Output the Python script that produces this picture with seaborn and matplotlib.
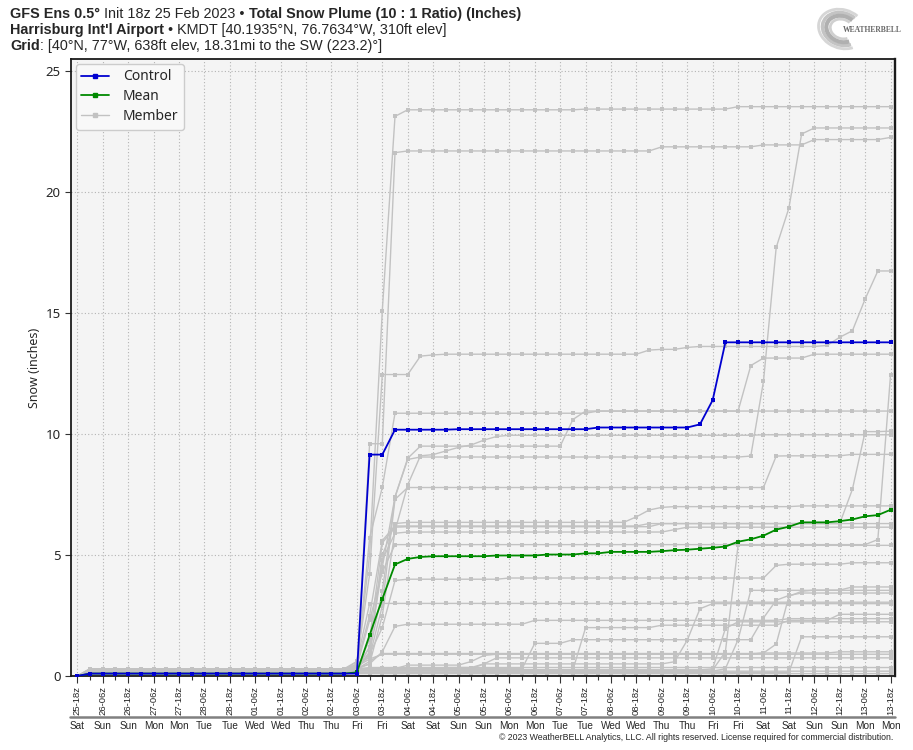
import matplotlib
matplotlib.use("Agg")
import matplotlib.pyplot as plt
import matplotlib.transforms as mtransforms
from matplotlib.lines import Line2D
from matplotlib.patches import Arc
from matplotlib import font_manager
import pandas as pd
import seaborn as sns

# ---- x axis: 6-hourly steps, 25-18z (Sat 25 Feb 2023) to 13-18z (Mon 13 Mar) ----
tick_labels = ["25-18z", "26-06z", "26-18z", "27-06z", "27-18z", "28-06z", "28-18z",
               "01-06z", "01-18z", "02-06z", "02-18z", "03-06z", "03-18z", "04-06z", "04-18z",
               "05-06z", "05-18z", "06-06z", "06-18z", "07-06z", "07-18z", "08-06z", "08-18z",
               "09-06z", "09-18z", "10-06z", "10-18z", "11-06z", "11-18z", "12-06z", "12-18z",
               "13-06z", "13-18z"]
day_labels = ["Sat", "Sun", "Sun", "Mon", "Mon", "Tue", "Tue", "Wed", "Wed", "Thu", "Thu",
              "Fri", "Fri", "Sat", "Sat", "Sun", "Sun", "Mon", "Mon", "Tue", "Tue", "Wed", "Wed",
              "Thu", "Thu", "Fri", "Fri", "Sat", "Sat", "Sun", "Sun", "Mon", "Mon"]

# ---- series, as (value, number of 6h steps) runs ----
control = [(0, 1), (0.1, 22), (9.15, 2), (10.18, 5), (10.2, 11), (10.27, 8), (10.4, 1),
           (11.4, 1), (13.79, 14)]
mean = [(0, 1), (0.1, 21), (0.15, 1), (1.69, 1), (3.18, 1), (4.61, 1), (4.84, 1), (4.92, 1),
        (4.95, 5), (4.98, 4), (5.02, 3), (5.07, 2), (5.13, 4), (5.16, 1), (5.2, 1), (5.22, 1),
        (5.26, 1), (5.3, 1), (5.35, 1), (5.55, 1), (5.65, 1), (5.8, 1), (6.05, 1), (6.17, 1),
        (6.35, 3), (6.4, 1), (6.47, 1), (6.6, 1), (6.65, 1), (6.87, 1)]

m01 = [(0, 1), (0.25, 21), (0.5, 1), (5.0, 1), (15.1, 1), (23.13, 1), (23.4, 14), (23.43, 12), (23.53, 13)]
m02 = [(0, 1), (0.2, 21), (0.3, 1), (1.2, 1), (4.5, 1), (7.4, 1), (8.95, 1), (9.05, 26), (9.09, 1),
       (12.18, 1), (17.71, 1), (19.34, 1), (22.4, 1), (22.65, 7)]
m03 = [(0, 1), (0.25, 21), (0.3, 1), (9.6, 2), (21.63, 1), (21.7, 20), (21.87, 8), (21.95, 4),
       (22.17, 6), (22.26, 1)]
m04 = [(0, 1), (0.3, 21), (0.6, 1), (4.2, 1), (12.46, 3), (13.22, 1), (13.27, 1), (13.3, 16),
       (13.47, 1), (13.5, 2), (13.58, 1), (13.62, 10), (13.66, 1), (14.0, 1), (14.27, 1),
       (15.58, 1), (16.74, 2)]
m05 = [(0, 1), (0.2, 21), (0.3, 1), (1.0, 1), (3.5, 1), (7.4, 1), (9.0, 1), (9.5, 12), (10.6, 1),
       (10.95, 13), (12.83, 1), (13.14, 4), (13.3, 7)]
m06 = [(0, 1), (0.2, 21), (0.4, 1), (5.7, 1), (7.8, 1), (10.86, 16), (10.95, 24)]
m07 = [(0, 1), (0.2, 21), (0.5, 1), (2.5, 1), (5.6, 1), (6.2, 20), (6.3, 16), (7.72, 1),
       (10.1, 2), (10.12, 1)]
m08 = [(0, 1), (0.2, 21), (0.3, 1), (0.5, 1), (2.5, 1), (6.0, 1), (7.9, 1), (9.1, 1), (9.15, 1),
       (9.3, 1), (9.45, 1), (9.55, 1), (9.75, 1), (9.9, 1), (9.95, 20), (9.97, 11)]
m09 = [(0, 1), (0.3, 21), (0.4, 1), (0.8, 1), (2.9, 1), (7.3, 1), (7.79, 29), (9.09, 1),
       (9.1, 5), (9.16, 4)]
m10 = [(0, 1), (0.2, 21), (0.4, 1), (0.9, 1), (5.0, 1), (6.3, 1), (6.35, 18), (6.58, 1),
       (6.86, 1), (6.97, 1), (7.0, 10), (7.03, 8)]
m11 = [(0, 1), (0.2, 21), (0.3, 1), (1.5, 1), (5.5, 1), (6.15, 1), (6.17, 20), (6.3, 19)]
m12 = [(0, 1), (0.15, 21), (0.3, 1), (1.2, 1), (4.8, 1), (5.9, 1), (5.95, 21), (6.05, 1), (6.15, 17)]
m13 = [(0, 1), (0.25, 21), (0.4, 1), (2.3, 1), (4.3, 1), (5.43, 38), (5.64, 1), (12.45, 1)]
m14 = [(0, 1), (0.2, 21), (0.25, 29), (1.0, 1), (5.4, 13)]
m15 = [(0, 1), (0.2, 21), (0.3, 1), (0.9, 1), (2.0, 1), (3.95, 1), (4.0, 8), (4.05, 21),
       (4.57, 1), (4.62, 5), (4.68, 4)]
m16 = [(0, 1), (0.25, 21), (0.6, 1), (2.99, 1), (3.0, 25), (3.05, 16)]
m17 = [(0, 1), (0.25, 21), (0.3, 7), (0.35, 3), (0.5, 15), (0.59, 1), (1.48, 1), (2.78, 1), (2.99, 15)]
m18 = [(0, 1), (0.2, 21), (0.3, 1), (0.6, 1), (0.93, 30), (0.95, 1), (1.32, 1), (3.29, 1),
       (3.5, 1), (3.55, 3), (3.68, 4)]
m19 = [(0, 1), (0.15, 21), (0.2, 29), (0.3, 1), (1.5, 1), (3.54, 12)]
m20 = [(0, 1), (0.2, 21), (0.3, 14), (1.35, 3), (1.5, 15), (2.4, 1), (3.13, 1), (3.33, 1), (3.43, 8)]
m21 = [(0, 1), (0.2, 21), (0.3, 1), (0.5, 1), (1.0, 1), (2.05, 1), (2.14, 10), (2.3, 20), (2.37, 9)]
m22 = [(0, 1), (0.2, 21), (0.25, 28), (0.3, 1), (1.96, 1), (2.24, 13)]
m23 = [(0, 1), (0.2, 21), (0.25, 18), (2.0, 6), (2.1, 10), (2.3, 4), (2.55, 5)]
m24 = [(0, 1), (0.2, 21), (0.15, 35), (1.62, 8)]
m25 = [(0, 1), (0.2, 21), (0.4, 1), (0.7, 1), (0.9, 30), (0.95, 6), (1.0, 5)]
m26 = [(0, 1), (0.2, 21), (0.3, 4), (0.45, 5), (0.6, 1), (0.85, 1), (0.9, 32)]
m27 = [(0, 1), (0.25, 21), (0.3, 10), (0.5, 1), (0.75, 32)]
m28 = [(0, 1), (0.3, 22), (0.35, 42)]
m29 = [(0, 1), (0.15, 30), (0.2, 34)]
m30 = [(0, 1), (0.1, 64)]

members = [m01, m02, m03, m04, m05, m06, m07, m08, m09, m10, m11, m12, m13, m14, m15,
           m16, m17, m18, m19, m20, m21, m22, m23, m24, m25, m26, m27, m28, m29, m30]


def expand(runs):
    vals = [v for v, n in runs for _ in range(n)]
    assert len(vals) == 65, len(vals)
    return vals


steps = list(range(65))
rows = []
for k, runs in enumerate(members):
    for s, v in zip(steps, expand(runs)):
        rows.append({"step": s, "snow": v, "member": k})
df_mem = pd.DataFrame(rows)
df_ctl = pd.DataFrame({"step": steps, "snow": expand(control)})
df_mean = pd.DataFrame({"step": steps, "snow": expand(mean)})

# ---- fonts ----
installed = {f.name for f in font_manager.fontManager.ttflist}
narrow = "Liberation Sans Narrow" if "Liberation Sans Narrow" in installed else "Liberation Sans"

sns.set_style("ticks")
plt.rcParams["font.family"] = ["Noto Sans", "DejaVu Sans"]

W, H = 913, 750
fig = plt.figure(figsize=(W / 100, H / 100), dpi=100)
fig.patch.set_facecolor("white")
ax = fig.add_axes([71 / W, 1 - 676 / H, (895 - 71) / W, (676 - 59) / H])
ax.set_facecolor("#f4f4f4")

# members, mean, control
sns.lineplot(data=df_mem, x="step", y="snow", units="member", estimator=None, ax=ax,
             color="#c2c2c2", lw=1.0, marker="s", markersize=2.2, markeredgewidth=0,
             legend=False, zorder=2)
sns.lineplot(data=df_mean, x="step", y="snow", ax=ax, color="#008a00", lw=1.3,
             marker="s", markersize=2.8, markeredgewidth=0, legend=False, zorder=3)
sns.lineplot(data=df_ctl, x="step", y="snow", ax=ax, color="#0000d0", lw=1.3,
             marker="s", markersize=2.8, markeredgewidth=0, legend=False, zorder=4)

ax.set_xlim(-0.5, 64.35)
ax.set_ylim(0, 25.5)
ax.set_xticks(range(0, 65, 2))
ax.set_xticks(range(1, 65, 2), minor=True)
ax.set_xticklabels(tick_labels, rotation=90, fontsize=6.8, family=narrow)
ax.set_yticks([0, 5, 10, 15, 20, 25])
ax.tick_params(axis="y", labelsize=9.5, length=4, width=0.8, color="#333333")
ax.tick_params(axis="x", which="major", length=5, width=0.8, color="#333333", pad=2)
ax.tick_params(axis="x", which="minor", length=3, width=0.8, color="#333333")
ax.set_xlabel("")
ax.set_ylabel("Snow (inches)", fontsize=9, labelpad=3)
ax.grid(True, which="major", color="#b4b4b4", linestyle=(0, (1, 2)), lw=0.8)
for sp in ax.spines.values():
    sp.set_color("#1a1a1a")
    sp.set_linewidth(1.3)
ax.spines["right"].set_linewidth(1.7)

# legend
handles = [Line2D([], [], color="#0000d0", lw=1.3, marker="s", markersize=2.8, label="Control"),
           Line2D([], [], color="#008a00", lw=1.3, marker="s", markersize=2.8, label="Mean"),
           Line2D([], [], color="#c2c2c2", lw=1.0, marker="s", markersize=2.2, label="Member")]
leg = ax.legend(handles=handles, loc="upper left", fontsize=10, frameon=True, framealpha=1,
                facecolor="#f8f8f8", edgecolor="#cccccc", borderaxespad=0.35, numpoints=1,
                handlelength=2.0, handletextpad=1.0, borderpad=0.4, labelspacing=0.35)

# day names under a separator line
blend = mtransforms.blended_transform_factory(ax.transData, fig.transFigure)
for i, d in enumerate(day_labels):
    ax.text(2 * i, 1 - 726 / H, d, transform=blend, ha="center", va="center",
            fontsize=7.2, family=narrow, clip_on=False)
fig.add_artist(Line2D([70 / W, 895 / W], [1 - 717 / H, 1 - 717 / H], color="#808080",
                      lw=1.8, transform=fig.transFigure))
fig.text(893 / W, 1 - 738 / H,
         "\u00a9 2023 WeatherBELL Analytics, LLC. All rights reserved. License required for commercial distribution.",
         ha="right", va="center", fontsize=6.3, family=narrow)

# header lines with bold / regular pieces
renderer = fig.canvas.get_renderer()


def rich_line(x_px, y_px, parts, size):
    x = x_px
    drawn = []
    for txt, weight in parts:
        t = fig.text(x / W, 1 - y_px / H, txt, fontsize=size, fontweight=weight,
                     family=narrow, ha="left", va="baseline")
        x += t.get_window_extent(renderer).width
        drawn.append(t)
    return x - x_px, drawn


line1 = [("GFS Ens 0.5\u00b0", "bold"), (" Init 18z 25 Feb 2023 \u2022 ", "normal"),
         ("Total Snow Plume (10 : 1 Ratio) (Inches)", "bold")]
line2 = [("Harrisburg Int'l Airport", "bold"),
         (" \u2022 KMDT [40.1935\u00b0N, 76.7634\u00b0W, 310ft elev]", "normal")]
line3 = [("Grid", "bold"), (": [40\u00b0N, 77\u00b0W, 638ft elev, 18.31mi to the SW (223.2)\u00b0]", "normal")]

size = 10
width, drawn = rich_line(10, 18, line1, size)
for t in drawn:
    t.remove()
size = size * (512 / width)
rich_line(10, 18, line1, size)
rich_line(10, 34, line2, size)
rich_line(10, 50, line3, size)

# small logo in the top right corner
lax = fig.add_axes([812 / W, 1 - 54 / H, 90 / W, 50 / H])
lax.set_xlim(0, 90)
lax.set_ylim(0, 50)
lax.axis("off")
for r, c, lw in [(24, "#d6d6d6", 2), (20, "#c4c4c4", 2.5), (16, "#b0b0b0", 3), (12, "#d0d0d0", 2)]:
    lax.add_patch(Arc((30, 25), 2 * r, 1.6 * r, angle=-20, theta1=60, theta2=320, color=c, lw=lw))
lax.text(60, 24, "WEATHERBELL", fontsize=5.5, color="#666666", ha="center", va="center",
         family="Liberation Serif", fontweight="bold")

fig.savefig("out.png", dpi=100, facecolor="white")
